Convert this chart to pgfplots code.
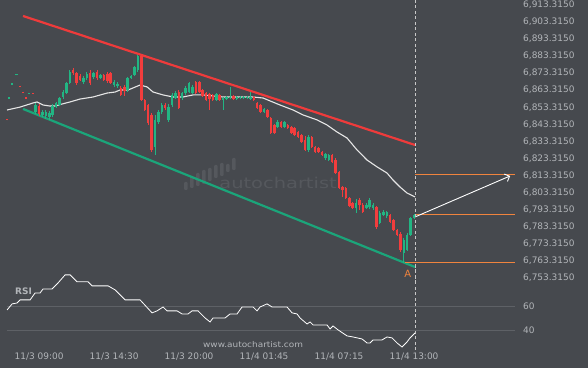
\documentclass[border=0pt]{standalone}
\usepackage{pgfplots}
\pgfplotsset{compat=1.18}
\usepackage{pgfplotstable}
\usetikzlibrary{arrows.meta}
\usepackage{fontspec}
\setmainfont{DejaVu Sans}
\definecolor{bg}{HTML}{46494E}
\definecolor{tickc}{HTML}{B2B5B9}
\definecolor{gridc}{HTML}{5E6166}
\definecolor{wmc}{HTML}{55585D}
\definecolor{cgreen}{HTML}{22B583}
\definecolor{cred}{HTML}{F23D3D}
\definecolor{lred}{HTML}{EE3B3B}
\definecolor{lgreen}{HTML}{1BA57A}
\definecolor{corange}{HTML}{F0843E}
\definecolor{mac}{HTML}{E6E6E6}
\definecolor{dashc}{HTML}{C8C8C8}

\pgfplotstableread{
x o h l c
-8.8 6858.4 6859.0 6858.4 6859.0
-7.9 6866.6 6867.2 6866.6 6867.2
-6.7 6871.9 6872.5 6871.9 6872.5
-2.9 6861.3 6861.9 6861.3 6861.9
-1 6850.5 6855.8 6849.4 6854.6
1 6848.8 6851.7 6847.6 6850.5
2 6848.2 6851.7 6846.4 6850.5
3 6847.6 6851.1 6845.9 6850.0
4 6848.8 6855.2 6847.6 6854.0
5 6853.5 6856.4 6852.9 6855.8
6 6854.6 6859.3 6854.0 6858.7
7 6859.3 6863.4 6858.1 6862.2
8 6861.6 6868.1 6861.1 6867.5
9 6867.5 6875.1 6866.9 6873.9
13 6868.1 6871.6 6866.9 6870.4
14 6870.4 6873.9 6869.2 6872.8
16 6871.0 6873.9 6869.8 6873.3
18 6870.4 6872.8 6869.8 6872.2
22 6866.3 6869.2 6865.2 6868.1
23 6865.7 6868.1 6864.6 6866.9
26 6863.4 6871.0 6862.2 6870.4
27 6870.4 6872.2 6869.8 6871.6
28 6872.2 6877.4 6871.6 6876.9
29 6875.1 6883.9 6873.9 6883.3
34 6830.1 6848.8 6825.4 6845.9
35 6844.7 6851.7 6843.5 6850.5
36 6850.5 6855.8 6849.4 6854.6
38 6845.9 6855.2 6844.7 6853.5
39 6854.6 6861.6 6853.5 6860.5
40 6858.7 6862.8 6858.1 6861.6
42 6858.7 6862.2 6857.5 6861.6
43 6861.6 6865.7 6860.5 6864.6
44 6862.2 6868.1 6861.6 6867.5
45 6861.6 6866.3 6861.1 6865.2
52 6857.5 6861.6 6857.0 6861.1
54 6857.5 6859.3 6851.7 6858.7
55 6858.1 6859.9 6857.5 6859.3
56 6858.7 6865.2 6858.1 6859.3
58 6858.1 6859.9 6857.5 6859.3
59 6858.7 6859.9 6858.1 6859.3
60 6858.7 6859.9 6858.1 6859.3
61 6858.7 6859.9 6858.1 6859.3
62 6858.1 6862.2 6857.5 6859.3
66 6850.5 6852.9 6850.0 6852.3
70 6841.8 6845.9 6841.2 6844.7
72 6841.8 6845.3 6841.2 6844.7
79 6828.3 6837.1 6827.1 6835.9
84 6823.6 6826.5 6822.4 6826.0
85 6822.4 6826.0 6821.9 6825.4
93 6794.4 6799.6 6791.4 6797.3
96 6794.4 6797.3 6793.8 6796.1
97 6794.9 6800.2 6793.8 6799.0
98 6794.4 6797.3 6793.2 6796.1
100 6785.6 6792.6 6785.0 6791.4
101 6790.3 6793.2 6789.7 6792.0
102 6789.7 6792.6 6788.5 6792.0
107 6768.0 6776.8 6762.2 6775.6
108 6769.8 6779.7 6769.2 6778.6
109 6778.6 6789.1 6778.0 6788.5
110 6788.5 6790.9 6787.9 6790.3
}\greentab

\pgfplotstableread{
x o h l c
-9.4 6846.2 6846.2 6845.6 6845.6
-5.6 6866.0 6866.0 6865.4 6865.4
-4.7 6862.5 6862.5 6861.9 6861.9
-3.8 6859.0 6859.0 6858.4 6858.4
-1.8 6861.4 6861.4 6860.8 6860.8
0 6854.0 6855.2 6848.2 6849.4
10 6875.1 6876.3 6872.2 6873.3
11 6873.3 6873.9 6866.3 6867.5
12 6871.6 6872.8 6868.7 6869.2
15 6873.3 6875.1 6866.3 6867.5
17 6873.9 6875.1 6869.2 6870.4
19 6872.2 6872.8 6868.7 6869.2
20 6872.8 6873.9 6867.5 6868.7
21 6873.3 6873.9 6866.9 6867.5
24 6864.6 6865.7 6859.9 6860.5
25 6865.2 6866.3 6859.9 6862.8
30 6883.3 6883.9 6857.0 6857.5
31 6857.5 6858.1 6851.1 6851.7
32 6854.6 6855.2 6842.9 6844.1
33 6848.8 6850.0 6827.1 6828.3
37 6854.6 6855.8 6851.7 6852.9
41 6862.2 6863.4 6852.3 6852.9
46 6868.1 6868.7 6861.1 6861.6
47 6868.1 6868.7 6861.6 6862.2
48 6863.4 6864.0 6859.3 6859.9
49 6861.6 6862.2 6857.0 6857.5
50 6861.1 6861.6 6851.7 6858.1
51 6860.5 6861.1 6857.0 6857.5
53 6860.5 6861.1 6857.0 6857.5
57 6859.9 6860.5 6857.5 6858.1
63 6859.3 6859.9 6857.0 6857.5
64 6855.8 6856.4 6852.3 6852.9
65 6854.6 6855.2 6850.0 6850.5
67 6851.7 6852.3 6847.0 6847.6
68 6847.0 6847.6 6837.7 6838.2
69 6842.9 6843.5 6837.7 6838.2
71 6844.7 6845.3 6841.2 6841.8
73 6842.9 6843.5 6840.6 6841.2
74 6841.8 6842.3 6837.7 6838.2
75 6841.2 6841.8 6836.5 6837.1
76 6838.8 6839.4 6835.3 6835.9
77 6837.1 6837.7 6832.4 6833.0
78 6834.1 6836.5 6827.7 6828.3
80 6835.9 6836.5 6829.5 6830.1
81 6830.1 6830.6 6826.5 6827.1
82 6829.5 6830.1 6826.5 6827.1
83 6827.1 6827.7 6824.8 6825.4
86 6825.4 6826.0 6820.7 6821.3
87 6822.4 6823.6 6814.3 6814.8
88 6815.4 6816.0 6805.5 6806.1
89 6806.7 6807.3 6800.8 6804.9
90 6806.1 6806.7 6799.6 6800.2
91 6800.2 6800.8 6794.9 6795.5
92 6797.3 6797.9 6793.8 6794.4
94 6799.0 6800.2 6793.2 6796.1
95 6796.1 6797.3 6791.4 6792.0
99 6794.9 6795.5 6782.1 6783.2
103 6790.3 6790.9 6785.6 6786.2
104 6787.3 6787.9 6780.9 6781.5
105 6781.5 6782.1 6778.0 6778.6
106 6779.1 6780.3 6768.6 6769.8
}\redtab

\begin{document}
\begin{tikzpicture}[x=1bp,y=1bp]
\fill[bg] (0,0) rectangle (588,368);
% watermark
\node[anchor=base, text=wmc, font=\fontsize{15}{15}\selectfont, xscale=1.3, inner sep=0pt] at (278,179) {autochartist};
\foreach \bx/\bt/\bb in {184/182/190, 190/176/188, 196/173/186, 202/170/184, 208/168/181, 214/165/178, 220/163/176, 226/164/172, 232/158/170}
  \fill[wmc, rounded corners=1bp] (\bx,368-\bb) rectangle (\bx+3.5,368-\bt);
\node[text=tickc, font=\fontsize{8}{9}\selectfont, xscale=1.12] at (253,23) {www.autochartist.com};
\node[text=tickc, font=\bfseries\fontsize{9}{10}\selectfont] at (23.5,77) {RSI};

\begin{axis}[at={(0bp,83bp)}, anchor=south west, scale only axis,
  width=520bp, height=285bp,
  xmin=-11.44, xmax=141.1, ymin=6749.3, ymax=6916.06,
  axis line style={draw=none}, xtick=\empty,
  ytick={6753.315,6763.315,6773.315,6783.315,6793.315,6803.315,6813.315,6823.315,6833.315,6843.315,6853.315,6863.315,6873.315,6883.315,6893.315,6903.315,6913.315},
  yticklabels={{6,753.3150},{6,763.3150},{6,773.3150},{6,783.3150},{6,793.3150},{6,803.3150},{6,813.3150},{6,823.3150},{6,833.3150},{6,843.3150},{6,853.3150},{6,863.3150},{6,873.3150},{6,883.3150},{6,893.3150},{6,903.3150},{6,913.3150}},
  yticklabel pos=right, major tick length=0pt,
  yticklabel style={anchor=west, inner sep=0pt, xshift=3bp},
  tick label style={font=\fontsize{9}{10}\selectfont, text=tickc},
]
% trend lines
\addplot[lred, line width=2.2bp] coordinates {(-4.7,6906.7) (110.3,6831.2)};
\addplot[lgreen, line width=2.2bp] coordinates {(-4.7,6852.3) (110.3,6759.8)};
% moving average
\addplot[mac, line width=1.1bp] coordinates {
(-9.39,6851.7)(-5.57,6853.4)(-1.76,6855.8)(-0.59,6856.4)(1.17,6854.6)(3.23,6854.0)(4.69,6854.0)(6.75,6855.2)(9.09,6856.4)(12.03,6858.1)(15.84,6859.3)(19.95,6861.6)(22.29,6862.2)(23.76,6863.4)(26.11,6863.4)(27.57,6864.6)(29.63,6866.3)(31.68,6865.2)(33.44,6862.2)(36.37,6860.5)(39.31,6859.3)(42.24,6859.3)(45.17,6860.5)(48.11,6860.5)(51.04,6859.9)(53.97,6859.3)(56.91,6859.3)(59.84,6859.3)(62.77,6859.3)(65.71,6858.7)(67.76,6857.0)(70.70,6854.6)(74.51,6851.7)(77.44,6848.8)(81.55,6845.9)(84.48,6842.9)(87.42,6838.8)(90.35,6835.3)(93.28,6828.3)(96.22,6822.4)(99.15,6818.4)(102.08,6814.8)(103.84,6810.7)(105.90,6806.6)(107.95,6803.1)(110.30,6800.8)};
% candles: wicks
\addplot[cgreen, line width=0.9bp, quiver={u=0, v=\thisrow{h}-\thisrow{l}}] table[x=x, y=l] {\greentab};
\addplot[cred, line width=0.9bp, quiver={u=0, v=\thisrow{h}-\thisrow{l}}] table[x=x, y=l] {\redtab};
% candles: bodies
\addplot[cgreen, line width=2.5bp, quiver={u=0, v=\thisrow{c}-\thisrow{o}}] table[x=x, y=o] {\greentab};
\addplot[cred, line width=2.5bp, quiver={u=0, v=\thisrow{c}-\thisrow{o}}] table[x=x, y=o] {\redtab};
% levels
\addplot[corange, line width=0.9bp] coordinates {(110.3,6813.7) (139.6,6813.7)};
\addplot[corange, line width=0.9bp] coordinates {(110.3,6790.8) (139.6,6790.8)};
\addplot[corange, line width=0.9bp] coordinates {(107.4,6762.2) (139.6,6762.2)};
\addplot[white, line width=0.9bp, -{Straight Barb[length=4bp, width=8bp]}] coordinates {(110.3,6789.1) (138.2,6813.1)};
\addplot[dashc, line width=0.8bp, dash pattern=on 3bp off 2.5bp] coordinates {(110.3,6916.06) (110.3,6749.3)};
\node[text=corange, font=\fontsize{10}{11}\selectfont] at (axis cs:108.2,6756.0) {A};
\end{axis}

\begin{axis}[at={(0bp,18bp)}, anchor=south west, scale only axis,
  width=520bp, height=85bp,
  xmin=-11.44, xmax=141.1, ymin=23.3, ymax=95.3,
  axis line style={draw=none}, major tick length=0pt,
  xtick={0,22,44,66,88,110},
  xticklabels={11/3 09:00,11/3 14:30,11/3 20:00,11/4 01:45,11/4 07:15,11/4 13:00},
  xticklabel style={anchor=base, yshift=-10bp},
  ytick={40,60}, yticklabels={40,60},
  yticklabel pos=right,
  yticklabel style={anchor=west, inner sep=0pt, xshift=3bp},
  tick label style={font=\fontsize{9}{10}\selectfont, text=tickc},
]
\addplot[gridc, line width=0.9bp] coordinates {(-9.4,60) (139.6,60)};
\addplot[gridc, line width=0.9bp] coordinates {(-9.4,40) (139.6,40)};
\addplot[dashc, line width=0.8bp, dash pattern=on 3bp off 2.5bp] coordinates {(110.3,95.3) (110.3,23.3)};
\addplot[white, line width=0.8bp] coordinates {
(-9.39,57.2)(-7.92,62.3)(-6.45,63.1)(-5.57,65.7)(-2.64,65.7)(-1.17,71.6)(0.29,71.6)(1.17,75.0)(3.81,75.0)(5.57,80.1)(7.63,86.9)(9.09,86.9)(11.15,81.0)(14.37,81.0)(15.55,77.6)(20.24,77.6)(22.29,74.2)(25.23,65.7)(29.63,65.7)(33.15,54.7)(34.61,56.4)(36.37,59.7)(37.55,56.4)(40.48,56.4)(41.95,53.8)(43.71,53.8)(44.88,56.4)(46.64,56.4)(48.70,50.4)(50.16,47.0)(51.04,50.4)(54.56,50.4)(56.03,53.8)(58.08,53.8)(59.55,59.7)(62.77,59.7)(63.95,56.4)(64.83,59.7)(66.88,62.3)(68.35,59.7)(72.75,59.7)(74.22,54.7)(75.68,53.8)(76.56,50.4)(78.62,45.3)(79.50,47.0)(80.38,44.5)(84.48,44.5)(85.36,41.1)(86.24,43.6)(87.71,40.3)(90.35,35.2)(92.11,34.3)(94.75,32.6)(96.22,29.2)(97.10,29.2)(97.98,31.8)(100.62,31.8)(102.08,34.3)(103.55,33.5)(105.02,29.2)(106.48,25.8)(107.95,30.1)(108.83,33.5)(110.30,37.7)};
\end{axis}
\end{tikzpicture}
\end{document}
